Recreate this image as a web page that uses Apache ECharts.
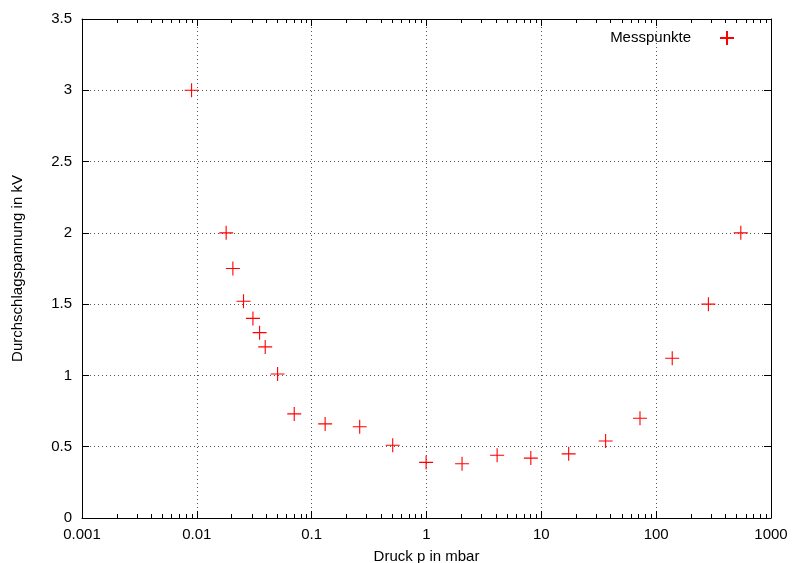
<!DOCTYPE html>
<html>
<head>
<meta charset="utf-8">
<script src="https://cdn.jsdelivr.net/npm/echarts@6/dist/echarts.min.js"></script>
<style>
html,body{margin:0;padding:0;background:#fff;}
#chart{width:792px;height:563px;}
</style>
</head>
<body>
<div id="chart"></div>
<script>
// Data
const pressure = [0.009, 0.018, 0.0206, 0.0255, 0.0308, 0.0352, 0.0394, 0.0505, 0.0705, 0.131, 0.262, 0.508, 0.992, 2.04, 4.12, 8.1, 17.3, 36.3, 72.3, 138, 285, 546];
const voltage  = [3.0, 2.0, 1.75, 1.52, 1.4, 1.3, 1.2, 1.01, 0.73, 0.66, 0.64, 0.51, 0.39, 0.38, 0.44, 0.42, 0.45, 0.54, 0.70, 1.12, 1.5, 2.0];
const xTickLabels = ['0.001', '0.01', '0.1', '1', '10', '100', '1000'];
const seriesName = 'Messpunkte';
const xName = 'Druck p in mbar';
const yName = 'Durchschlagspannung in kV';

const points = pressure.map((p, i) => [p, voltage[i]]);
const minorVals = [];
for (let d = -3; d < 3; d++) for (let m = 2; m <= 9; m++) minorVals.push([m * Math.pow(10, d), 0]);

const FONT = 'Liberation Sans';
const plusSym = 'path://M7,0L7,14M0,7L14,7';

const chart = echarts.init(document.getElementById('chart'), null, {renderer: 'canvas'});
const xLabelFmt = v => xTickLabels[Math.round(Math.log10(v)) + 3];

chart.setOption({
  animation: false,
  backgroundColor: '#fff',
  textStyle: {fontFamily: FONT},
  grid: {left: 82, right: 21, top: 19, bottom: 45, containLabel: false, outerBoundsMode: 'none'},
  legend: {
    data: [seriesName],
    top: 25, right: 52, align: 'right',
    itemWidth: 14, itemHeight: 14,
    textStyle: {fontFamily: FONT, fontSize: 15, color: '#000', padding: [0, 24, 0, 0]},
    selectedMode: false
  },
  xAxis: [{
    type: 'log', logBase: 10, min: 0.001, max: 1000, splitNumber: 6,
    position: 'bottom',
    name: xName, nameLocation: 'middle', nameGap: 31,
    nameTextStyle: {fontFamily: FONT, fontSize: 15, color: '#000'},
    axisLine: {show: true, onZero: false, lineStyle: {color: '#000', width: 1}},
    axisTick: {show: true, inside: true, length: 7, lineStyle: {color: '#000'}},
    axisLabel: {formatter: xLabelFmt, fontFamily: FONT, fontSize: 15, color: '#000', margin: 9},
    splitLine: {show: true, lineStyle: {color: '#555', type: [1, 3], width: 1}},
    minorTick: {show: false}
  }, {
    type: 'log', logBase: 10, min: 0.001, max: 1000, splitNumber: 6,
    position: 'top',
    axisLine: {show: true, onZero: false, lineStyle: {color: '#000', width: 1}},
    axisTick: {show: true, inside: true, length: 7, lineStyle: {color: '#000'}},
    axisLabel: {show: false},
    splitLine: {show: false}
  }],
  yAxis: [{
    type: 'value', min: 0, max: 3.5, interval: 0.5,
    position: 'left',
    name: yName, nameLocation: 'middle', nameGap: 57,
    nameTextStyle: {fontFamily: FONT, fontSize: 15, color: '#000'},
    axisLine: {show: true, onZero: false, lineStyle: {color: '#000', width: 1}},
    axisTick: {show: true, inside: true, length: 7, lineStyle: {color: '#000'}},
    axisLabel: {fontFamily: FONT, fontSize: 15, color: '#000', margin: 10},
    splitLine: {show: true, lineStyle: {color: '#555', type: [1, 3], width: 1}}
  }, {
    type: 'value', min: 0, max: 3.5, interval: 0.5,
    position: 'right',
    axisLine: {show: true, onZero: false, lineStyle: {color: '#000', width: 1}},
    axisTick: {show: true, inside: true, length: 7, lineStyle: {color: '#000'}},
    axisLabel: {show: false},
    splitLine: {show: false}
  }],
  series: [{
    name: seriesName,
    type: 'scatter',
    xAxisIndex: 0, yAxisIndex: 0,
    data: points,
    symbol: plusSym,
    symbolSize: 14,
    itemStyle: {color: 'rgba(0,0,0,0)', borderColor: '#ff0000', borderWidth: 1.1, opacity: 1},
    z: 5
  }, {
    name: 'minorTicks',
    type: 'custom',
    xAxisIndex: 0, yAxisIndex: 0,
    silent: true,
    clip: false,
    data: minorVals,
    renderItem: function (params, api) {
      const b = api.coord([api.value(0), 0]);
      const t = api.coord([api.value(0), 3.5]);
      const x = Math.round(b[0]) + 0.5;
      return {
        type: 'group',
        children: [
          {type: 'line', shape: {x1: x, y1: b[1], x2: x, y2: b[1] - 4}, style: {stroke: '#000', lineWidth: 1}},
          {type: 'line', shape: {x1: x, y1: t[1], x2: x, y2: t[1] + 4}, style: {stroke: '#000', lineWidth: 1}}
        ]
      };
    },
    z: 3
  }]
});
</script>
</body>
</html>
